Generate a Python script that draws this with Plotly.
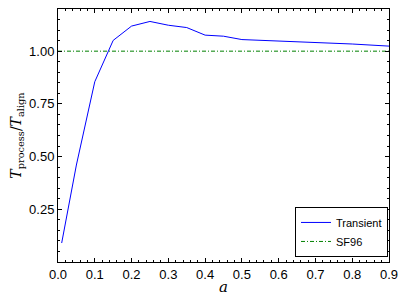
import plotly.graph_objects as go

a_vals = [0.01, 0.05, 0.10, 0.15, 0.20, 0.25, 0.30, 0.35, 0.40, 0.45, 0.50, 0.60, 0.70, 0.80, 0.90]
transient = [0.09, 0.46, 0.855, 1.051, 1.119, 1.141, 1.123, 1.112, 1.076, 1.071, 1.055, 1.049, 1.042, 1.034, 1.024]
sf96_x = [0.0, 0.9]
sf96_y = [1.0, 1.0]

x_ticks = [0.0, 0.1, 0.2, 0.3, 0.4, 0.5, 0.6, 0.7, 0.8, 0.9]
y_ticks = [0.25, 0.50, 0.75, 1.00]

fig = go.Figure()
fig.add_trace(go.Scatter(x=a_vals, y=transient, mode="lines", name="Transient",
                         line=dict(color="#0000ff", width=1)))
fig.add_trace(go.Scatter(x=sf96_x, y=sf96_y, mode="lines", name="SF96",
                         line=dict(color="#008000", width=1, dash="4px,2px,1px,2px")))

axis_common = dict(showgrid=False, zeroline=False, showline=True, linecolor="black",
                   linewidth=1, mirror="allticks", ticks="inside", ticklen=4,
                   tickcolor="black", tickwidth=1,
                   tickfont=dict(family="Liberation Sans, Arial", size=13, color="black"))

fig.update_xaxes(range=[0, 0.9], tickvals=x_ticks, ticktext=[f"{v:.1f}" for v in x_ticks],
                 minor=dict(dtick=0.02, ticks="inside", ticklen=2, tickcolor="black"),
                 title=dict(text="<i>a</i>", font=dict(family="DejaVu Serif, serif", size=15, color="black"),
                            standoff=0),
                 **axis_common)
fig.update_yaxes(range=[0, 1.2], tickvals=y_ticks, ticktext=[f"{v:.2f}" for v in y_ticks],
                 minor=dict(dtick=0.05, ticks="inside", ticklen=2, tickcolor="black"),
                 title=dict(text="<i>T</i><sub>process</sub>/<i>T</i><sub>align</sub>",
                            font=dict(family="DejaVu Serif, serif", size=14, color="black"),
                            standoff=4),
                 **axis_common)

fig.update_layout(
    width=407, height=305,
    margin=dict(l=58, r=18, t=9, b=43, autoexpand=False),
    plot_bgcolor="white", paper_bgcolor="white",
    showlegend=True,
    legend=dict(x=0.997, y=0.02, xanchor="right", yanchor="bottom",
                bordercolor="black", borderwidth=1, bgcolor="white",
                font=dict(family="Liberation Sans, Arial", size=11, color="black"),
                itemwidth=30, tracegroupgap=0),
)

fig.write_html("out.html", config={"displayModeBar": False},
               post_script="document.body.style.margin='0';document.body.style.overflow='hidden';")
